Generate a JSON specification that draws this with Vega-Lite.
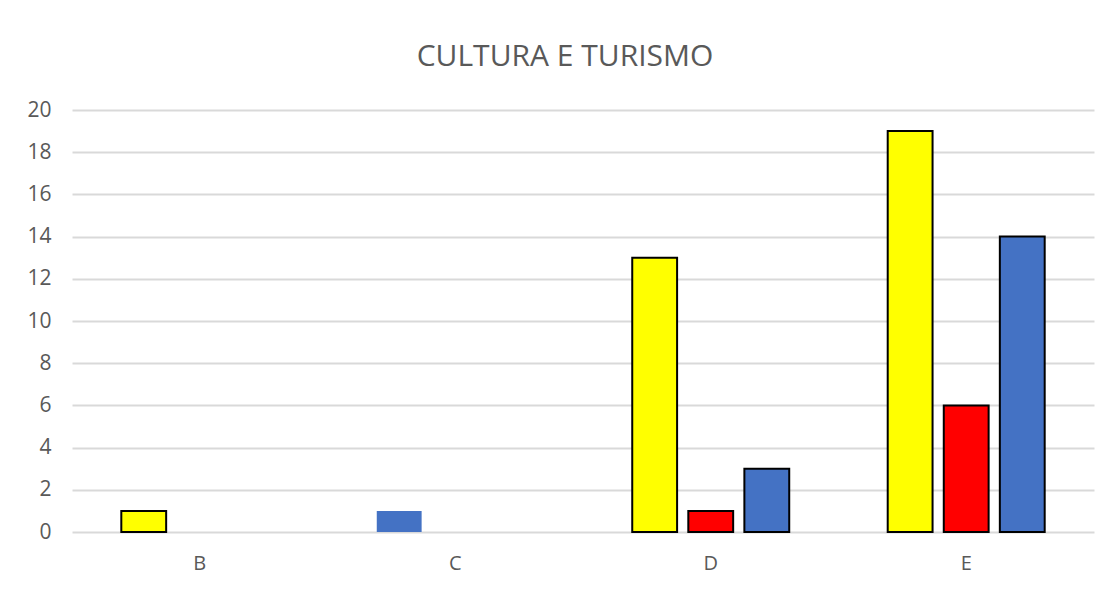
{
  "$schema": "https://vega.github.io/schema/vega-lite/v6.json",
  "width": 1022,
  "height": 422,
  "autosize": {"type": "none"},
  "padding": {"left": 72, "top": 110, "right": 25, "bottom": 58},
  "background": "white",
  "title": {
    "text": "CULTURA E TURISMO",
    "font": "Open Sans",
    "fontSize": 30,
    "fontWeight": "normal",
    "color": "#595959",
    "anchor": "middle",
    "dx": -18,
    "offset": 27
  },
  "config": {"view": {"stroke": null}},
  "data": {
    "values": [
      {"cat": "B", "serie": "Serie 1", "value": 1},
      {"cat": "C", "serie": "Serie 1", "value": 1},
      {"cat": "D", "serie": "Serie 1", "value": 13},
      {"cat": "D", "serie": "Serie 2", "value": 1},
      {"cat": "D", "serie": "Serie 3", "value": 3},
      {"cat": "E", "serie": "Serie 1", "value": 19},
      {"cat": "E", "serie": "Serie 2", "value": 6},
      {"cat": "E", "serie": "Serie 3", "value": 14}
    ]
  },
  "mark": {"type": "bar", "stroke": "black", "strokeWidth": 2},
  "encoding": {
    "x": {
      "field": "cat",
      "type": "nominal",
      "scale": {"domain": ["B", "C", "D", "E"], "paddingInner": 0.3855, "paddingOuter": 0.193},
      "axis": {
        "title": null,
        "domain": false,
        "ticks": false,
        "labelAngle": 0,
        "labelFont": "Open Sans",
        "labelFontSize": 20,
        "labelColor": "#595959",
        "labelPadding": 21
      }
    },
    "xOffset": {
      "field": "serie",
      "type": "nominal",
      "scale": {"domain": ["Serie 1", "Serie 2", "Serie 3"], "paddingInner": 0.2, "paddingOuter": 0}
    },
    "y": {
      "field": "value",
      "type": "quantitative",
      "scale": {"domain": [0, 20], "nice": false},
      "axis": {
        "title": null,
        "values": [0, 2, 4, 6, 8, 10, 12, 14, 16, 18, 20],
        "domain": false,
        "ticks": false,
        "grid": true,
        "gridColor": "#D9D9D9",
        "gridWidth": 1.8,
        "labelFont": "Open Sans",
        "labelFontSize": 21,
        "labelColor": "#595959",
        "labelPadding": 21
      }
    },
    "color": {
      "condition": {"test": "datum.cat === 'C'", "value": "#4472C4"},
      "field": "serie",
      "type": "nominal",
      "scale": {"domain": ["Serie 1", "Serie 2", "Serie 3"], "range": ["#FFFF00", "#FF0000", "#4472C4"]},
      "legend": null
    },
    "strokeOpacity": {
      "condition": {"test": "datum.cat === 'C'", "value": 0},
      "value": 1
    }
  }
}
